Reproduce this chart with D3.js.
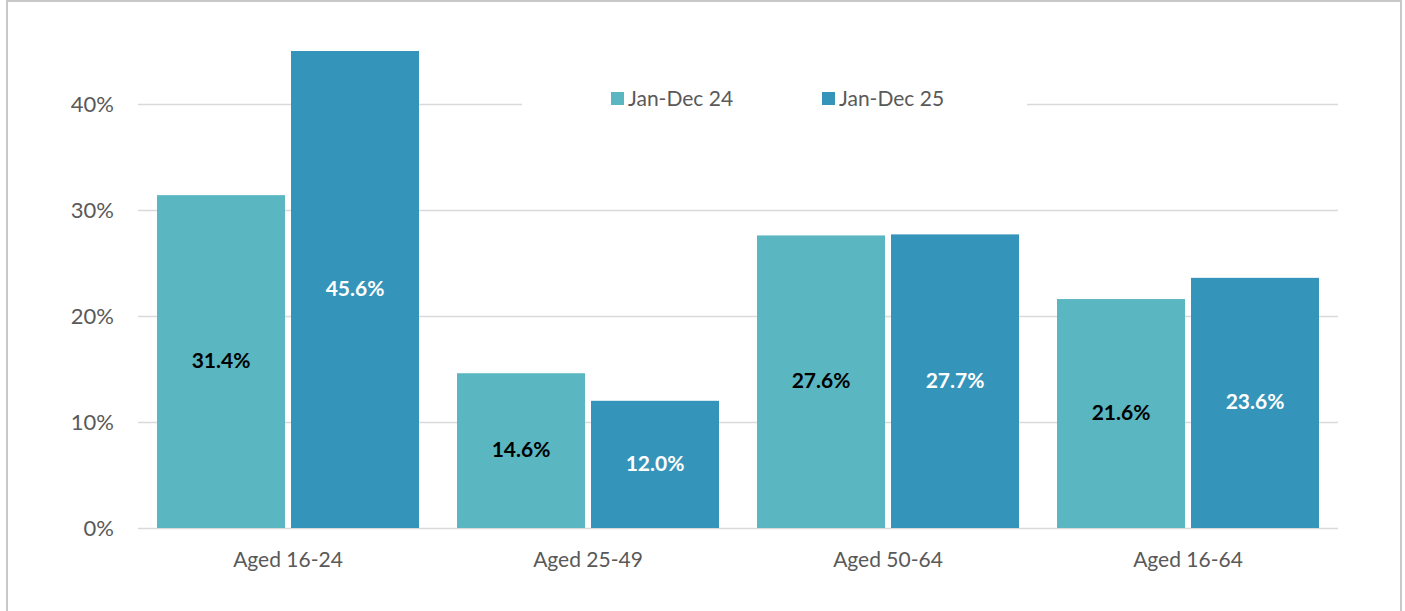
<!DOCTYPE html>
<meta charset="utf-8">
<div id="chart"></div>
<style>
body { margin: 0; background: #fff; font-family: 'Lato', sans-serif; }
</style>
<script src="https://d3js.org/d3.v7.min.js"></script>
<script>
var categories = ['Aged 16-24', 'Aged 25-49', 'Aged 50-64', 'Aged 16-64'];
var seriesNames = ['Jan-Dec 24', 'Jan-Dec 25'];
var jan24 = [31.4, 14.6, 27.6, 21.6];
var jan25 = [45.6, 12.0, 27.7, 23.6];
var yTicks = [0, 10, 20, 30, 40];

var colors = ['#5ab6c0', '#3594ba'];
var labelColors = ['#000000', '#ffffff'];

var W = 1405, H = 611;
var plotLeft = 138, plotRight = 1338, plotTop = 51, plotBottom = 528;
var yMax = 45;

var svg = d3.select('#chart').append('svg')
    .attr('width', W)
    .attr('height', H);

// chart frame
svg.append('rect')
    .attr('x', 7).attr('y', 1)
    .attr('width', 1394).attr('height', 640)
    .attr('fill', 'none')
    .attr('stroke', '#c8c8c8')
    .attr('stroke-width', 2);

var x0 = d3.scaleBand().domain(categories).range([plotLeft, plotRight]);
var y = d3.scaleLinear().domain([0, yMax]).range([plotBottom, plotTop]);

// gridlines
svg.selectAll('.grid')
    .data(yTicks)
    .enter().append('line')
    .attr('x1', plotLeft).attr('x2', plotRight)
    .attr('y1', function(d) { return Math.round(y(d)) + 0.5; })
    .attr('y2', function(d) { return Math.round(y(d)) + 0.5; })
    .attr('stroke', '#d9d9d9')
    .attr('stroke-width', 1.5);

// y labels
svg.selectAll('.ylab')
    .data(yTicks)
    .enter().append('text')
    .attr('x', 114)
    .attr('y', function(d) { return y(d); })
    .attr('dy', '0.36em')
    .attr('text-anchor', 'end')
    .attr('fill', '#595959')
    .style('font-size', '22px')
    .text(function(d) { return d + '%'; });

var rows = categories.map(function(c, i) {
    return { cat: c, vals: [jan24[i], jan25[i]] };
});

var barW = 128, gap = 6;
var x1 = function(j) {
    var inner = (x0.bandwidth() - (2 * barW + gap)) / 2;
    return inner + j * (barW + gap);
};
var clip = function(v) { return Math.min(v, yMax); };

var groups = svg.selectAll('.grp')
    .data(rows)
    .enter().append('g')
    .attr('transform', function(d) { return 'translate(' + x0(d.cat) + ',0)'; });

groups.selectAll('rect')
    .data(function(d) { return d.vals; })
    .enter().append('rect')
    .attr('x', function(d, j) { return x1(j); })
    .attr('y', function(d) { return y(clip(d)); })
    .attr('width', barW)
    .attr('height', function(d) { return plotBottom - y(clip(d)); })
    .attr('fill', function(d, j) { return colors[j]; });

groups.selectAll('.lab')
    .data(function(d) { return d.vals; })
    .enter().append('text')
    .attr('x', function(d, j) { return x1(j) + barW / 2; })
    .attr('y', function(d) { return (y(clip(d)) + plotBottom) / 2 - 1; })
    .attr('dy', '0.36em')
    .attr('text-anchor', 'middle')
    .attr('fill', function(d, j) { return labelColors[j]; })
    .style('font-size', '21px')
    .style('font-weight', 'bold')
    .text(function(d) { return d.toFixed(1) + '%'; });

// category labels
svg.selectAll('.xlab')
    .data(categories)
    .enter().append('text')
    .attr('x', function(d) { return x0(d) + x0.bandwidth() / 2; })
    .attr('y', 559)
    .attr('dy', '0.36em')
    .attr('text-anchor', 'middle')
    .attr('fill', '#595959')
    .style('font-size', '21px')
    .text(function(d) { return d; });

// legend, on a white box over the top gridline
svg.append('rect')
    .attr('x', 522).attr('y', 80)
    .attr('width', 505).attr('height', 40)
    .attr('fill', '#fff');

var legendX = [611, 822];
var legend = svg.selectAll('.legend')
    .data(seriesNames)
    .enter().append('g')
    .attr('transform', function(d, i) { return 'translate(' + legendX[i] + ',92)'; });

legend.append('rect')
    .attr('width', 13).attr('height', 13)
    .attr('fill', function(d, i) { return colors[i]; });

legend.append('text')
    .attr('x', 17)
    .attr('y', 6)
    .attr('dy', '0.36em')
    .attr('fill', '#595959')
    .style('font-size', '21px')
    .text(function(d) { return d; });
</script>
